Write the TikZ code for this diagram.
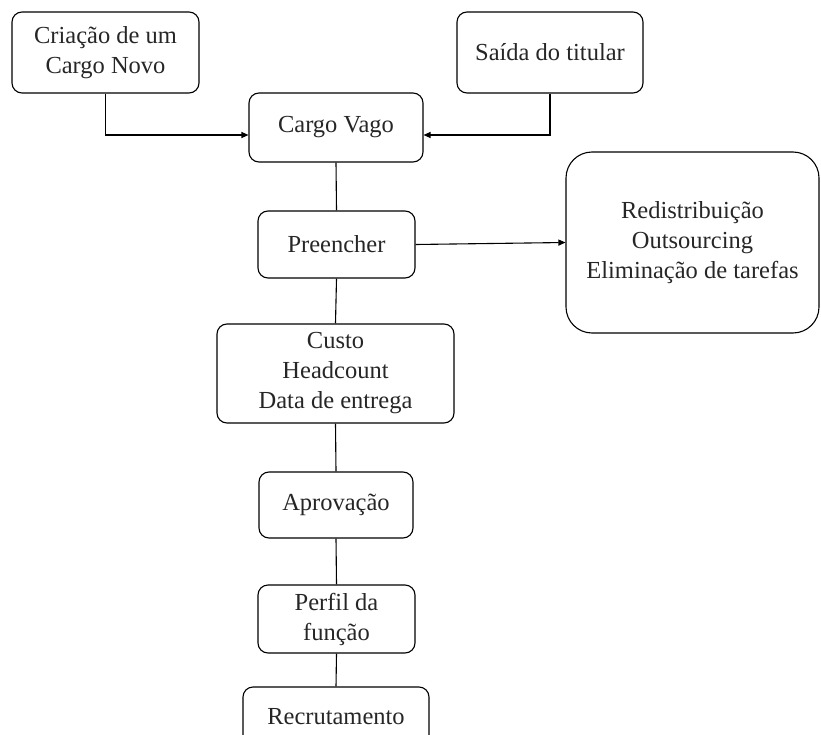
\documentclass[tikz,border=0pt]{standalone}
\usepackage{fontspec}
\setmainfont{Liberation Serif}
\usetikzlibrary{arrows.meta}
\begin{document}
\begin{tikzpicture}[x=1pt,y=-1pt,
  box/.style={draw, line width=1.1pt, rounded corners=10pt, align=center, inner sep=0pt,
    font=\fontsize{24.5}{30}\selectfont, text=black!85},
  bigbox/.style={box, rounded corners=26pt},
  link/.style={line width=1.1pt},
  arr/.style={link, -{Triangle[length=7pt,width=6pt]}}]
\useasboundingbox (0,0) rectangle (821,735);
\clip (0,0) rectangle (821,735);
\node[box, minimum width=187pt, minimum height=81pt] (crea) at (105.5,52.5) {Criação de um\\Cargo Novo};
\node[box, minimum width=186pt, minimum height=81pt] (said) at (550,52.5) {Saída do titular};
\node[box, minimum width=174pt, minimum height=69pt] (vago) at (336,127.5) {Cargo Vago};
\node[box, minimum width=157pt, minimum height=67pt] (pree) at (336.5,244.5) {Preencher};
\node[bigbox, minimum width=253pt, minimum height=181pt] (redi) at (692.5,242.5) {Redistribuição\\Outsourcing\\Eliminação de tarefas};
\node[box, minimum width=237pt, minimum height=99pt] (custo) at (335.5,373.5) {Custo\\Headcount\\Data de entrega};
\node[box, minimum width=154pt, minimum height=66pt] (apro) at (336,505) {Aprovação};
\node[box, minimum width=157pt, minimum height=68pt] (perf) at (336.5,619) {Perfil da\\função};
\node[box, minimum width=186pt, minimum height=60pt] (recr) at (336,717) {Recrutamento};
\coordinate (vl) at ([yshift=-7.5pt]vago.west);
\coordinate (vr) at ([yshift=-7.5pt]vago.east);
\draw[arr] (crea.south) |- (vl);
\draw[arr] (said.south) |- (vr);
\draw[link] (vago.south) -- (pree.north);
\draw[arr] (pree.east) -- (redi.west);
\draw[link] (pree.south) -- (custo.north);
\draw[link] (custo.south) -- (apro.north);
\draw[link] (apro.south) -- (perf.north);
\draw[link] (perf.south) -- (recr.north);
\end{tikzpicture}
\end{document}
